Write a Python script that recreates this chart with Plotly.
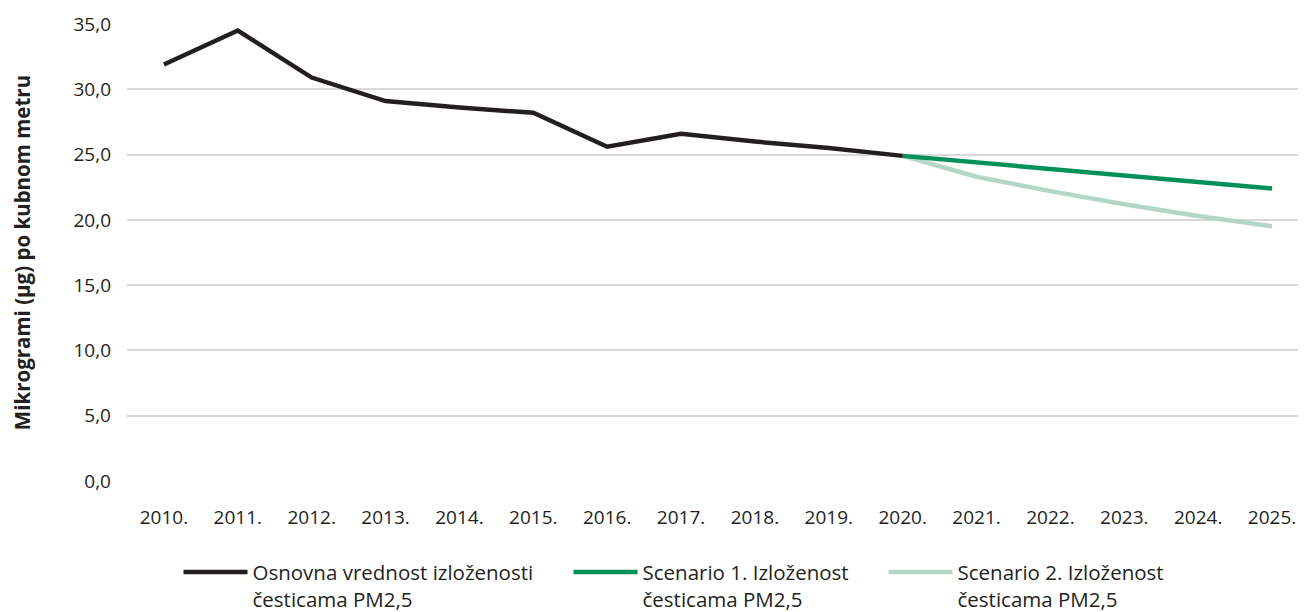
import plotly.graph_objects as go

godine = list(range(2010, 2026))
oznake_godina = [f"{g}." for g in godine]

# osnovna vrednost 2010-2020
osnovna_x = godine[:11]
osnovna = [31.9, 34.5, 30.9, 29.1, 28.6, 28.2, 25.6, 26.6, 26.0, 25.5, 24.9]

# scenariji 2020-2025
scenario_x = godine[10:]
scenario1 = [24.9, 24.4, 23.9, 23.4, 22.9, 22.4]
scenario2 = [24.9, 23.3, 22.2, 21.2, 20.3, 19.5]

nazivi = ["Osnovna vrednost izloženosti<br>česticama PM2,5",
          "Scenario 1. Izloženost<br>česticama PM2,5",
          "Scenario 2. Izloženost<br>česticama PM2,5"]
boje = ["#231f20", "#00915a", "#b3d6c6"]

fig = go.Figure()
fig.add_trace(go.Scatter(x=scenario_x, y=scenario2, mode="lines", name=nazivi[2],
                         line=dict(color=boje[2], width=4.5), legend="legend3"))
fig.add_trace(go.Scatter(x=scenario_x, y=scenario1, mode="lines", name=nazivi[1],
                         line=dict(color=boje[1], width=4.5), legend="legend2"))
fig.add_trace(go.Scatter(x=osnovna_x, y=osnovna, mode="lines", name=nazivi[0],
                         line=dict(color=boje[0], width=4.5), legend="legend"))

# stranica ima marginu od 8px, pa je sve pomereno za 8px
# tri legende, svaka na svom mestu
leg = dict(orientation="h", y=0.111, xref="container", yref="container", xanchor="left",
           yanchor="top", valign="top", font=dict(size=20.5), itemwidth=64,
           bgcolor="rgba(0,0,0,0)")

fig.update_layout(
    width=1306, height=612,
    margin=dict(l=119, r=8, t=16, b=139),
    paper_bgcolor="white", plot_bgcolor="white",
    font=dict(family="Open Sans", size=19, color="#231f20"),
    separators=",.",
    showlegend=True,
    legend=dict(leg, x=(178.5 - 8) / 1306),
    legend2=dict(leg, x=(568.5 - 8) / 1306),
    legend3=dict(leg, x=(883.5 - 8) / 1306),
)
fig.update_xaxes(range=[2009.5, 2025.46], tickvals=godine, ticktext=oznake_godina, automargin=False,
                 showgrid=False, zeroline=False, showline=False, ticks="", ticklabelstandoff=23)
fig.update_yaxes(range=[0, 35], dtick=5, tickformat=".1f", showgrid=True, gridcolor="#d9d9d9",
                 gridwidth=1.5, zeroline=False, showline=False, ticks="", ticklabelstandoff=15,
                 automargin=False,
                 title=dict(text="<b>Mikrogrami (µg) po kubnom metru</b>", font=dict(size=20.5), standoff=41))

fig.write_html("out.html")
